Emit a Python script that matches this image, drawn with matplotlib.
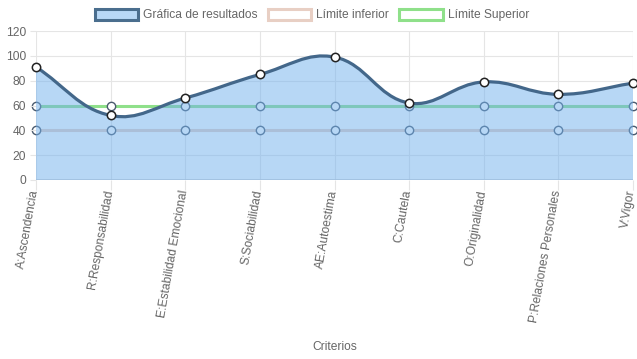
import numpy as np
import matplotlib.pyplot as plt
import matplotlib.transforms as mtransforms
from matplotlib.path import Path
from matplotlib.patches import PathPatch, Patch

plt.rcParams['font.family'] = ['Liberation Sans', 'DejaVu Sans']

criterios = ['A:Ascendencia', 'R:Responsabilidad', 'E:Estabilidad Emocional',
             'S:Sociabilidad', 'AE:Autoestima', 'C:Cautela', 'O:Originalidad',
             'P:Relaciones Personales', 'V:Vigor']
resultados = [91, 52, 66, 85, 99, 62, 79, 69, 78]
limite_inferior = [40] * 9
limite_superior = [60] * 9

W, H = 637, 359
fig = plt.figure(figsize=(W / 100, H / 100), dpi=100)
L, R, T, B = 36, 633, 31, 180
ax = fig.add_axes([L / W, 1 - B / H, (R - L) / W, (B - T) / H])

x = np.arange(len(criterios))
ax.set_xlim(0, len(criterios) - 1)
ax.set_ylim(0, 120)

# pixel scale used for chart.js-like bezier tension
sx = (R - L) / (len(criterios) - 1)
sy = (B - T) / 120.0


def spline_path(xs, ys, t=0.4):
    px = np.array(xs, float) * sx
    py = np.array(ys, float) * sy
    n = len(px)
    c1, c2 = [], []
    for i in range(n):
        p0 = (px[max(i - 1, 0)], py[max(i - 1, 0)])
        p1 = (px[i], py[i])
        p2 = (px[min(i + 1, n - 1)], py[min(i + 1, n - 1)])
        d01 = np.hypot(p1[0] - p0[0], p1[1] - p0[1])
        d12 = np.hypot(p2[0] - p1[0], p2[1] - p1[1])
        tot = d01 + d12 if d01 + d12 > 0 else 1
        fa, fb = t * d01 / tot, t * d12 / tot
        c1.append((p1[0] - fa * (p2[0] - p0[0]), p1[1] - fa * (p2[1] - p0[1])))
        c2.append((p1[0] + fb * (p2[0] - p0[0]), p1[1] + fb * (p2[1] - p0[1])))
    verts = [(px[0], py[0])]
    codes = [Path.MOVETO]
    for i in range(n - 1):
        verts += [c2[i], c1[i + 1], (px[i + 1], py[i + 1])]
        codes += [Path.CURVE4] * 3
    verts = [(vx / sx, min(max(vy / sy, 0), 120)) for vx, vy in verts]
    return verts, codes


# grid
for xi in x:
    ax.axvline(xi, color='#e5e5e5', lw=0.8, zorder=0)
for yi in range(0, 121, 20):
    ax.axhline(yi, color='#e5e5e5', lw=0.8, zorder=0)
ax.axhline(0, color='#d0d0d0', lw=1.2, zorder=0)

# limit lines (drawn below the fill)
ax.plot(x, limite_inferior, color='#e8cfc4', lw=2.2, zorder=1)
ax.plot(x, limite_superior, color='#8fe08a', lw=2.2, zorder=1)
ax.plot(x, limite_inferior, 'o', ms=6, mfc='white', mec='#4a5a6e', mew=1.0,
        zorder=1.5, clip_on=False)
ax.plot(x, limite_superior, 'o', ms=6, mfc='white', mec='#4a5a6e', mew=1.0,
        zorder=1.5, clip_on=False)

verts, codes = spline_path(x, resultados)
fverts = verts + [(x[-1], 0), (x[0], 0), verts[0]]
fcodes = codes + [Path.LINETO, Path.LINETO, Path.CLOSEPOLY]
ax.add_patch(PathPatch(Path(fverts, fcodes), facecolor=(0.44, 0.69, 0.93, 0.5),
                       edgecolor='none', zorder=2))
ax.add_patch(PathPatch(Path(verts, codes), facecolor='none', edgecolor='#43678a',
                       lw=2.3, zorder=3, capstyle='round'))
ax.plot(x, resultados, 'o', ms=6, mfc='white', mec='#222222', mew=1.1, zorder=4,
        clip_on=False)

for s in ax.spines.values():
    s.set_visible(False)
ax.set_xticks(x)
ax.set_xticklabels([])
# rotated category labels, placed by hand so they can be nudged
off = mtransforms.ScaledTranslation(-1 / 100, -10 / 100, fig.dpi_scale_trans)
for xi, lab in zip(x, criterios):
    ax.text(xi, 0, lab, transform=ax.get_xaxis_transform() + off, rotation=80,
            ha='right', va='center', rotation_mode='anchor', fontsize=8.64,
            color='#666666', clip_on=False)
ax.set_yticks(range(0, 121, 20))
ax.tick_params(axis='y', labelsize=8.64, colors='#666666', length=4, color='#e5e5e5', pad=3)
ax.tick_params(axis='x', length=7, color='#e5e5e5', pad=1)
ax.set_xlabel('Criterios', fontsize=8.64, color='#666666')
ax.xaxis.set_label_coords(0.5, -(341 - B) / (B - T))

handles = [Patch(facecolor='#b8d8f6', edgecolor='#4a6e8e', lw=2.2),
           Patch(facecolor='white', edgecolor='#e8cfc4', lw=2.2),
           Patch(facecolor='white', edgecolor='#8fe08a', lw=2.2)]
labels = ['Gráfica de resultados', 'Límite inferior', 'Límite Superior']
leg = fig.legend(handles, labels, loc='upper center', bbox_to_anchor=(0.49, 1.005),
                 ncol=3, frameon=False, fontsize=8.64, handlelength=3.6, handleheight=1.0,
                 columnspacing=0.85, handletextpad=0.42)
for t in leg.get_texts():
    t.set_color('#666666')

fig.savefig('out.png', dpi=100)
